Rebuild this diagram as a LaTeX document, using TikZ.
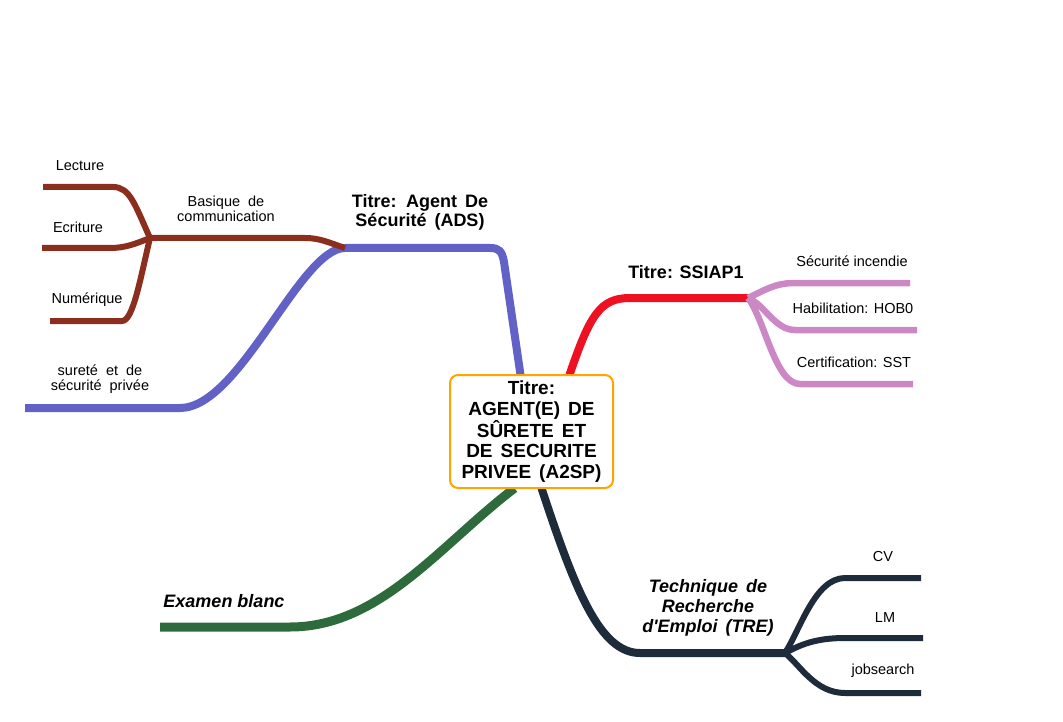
\documentclass[tikz,border=0pt]{standalone}
\usepackage{fontspec}
\setmainfont{Liberation Sans}
\definecolor{cblue}{RGB}{98,98,198}
\definecolor{cbrown}{RGB}{139,46,30}
\definecolor{cred}{RGB}{238,17,34}
\definecolor{cpink}{RGB}{204,136,196}
\definecolor{cgreen}{RGB}{46,107,60}
\definecolor{cnavy}{RGB}{30,43,59}
\definecolor{corange}{RGB}{255,165,0}
\newlength{\wsp}
\setlength{\wsp}{8pt}
\newcommand{\widesp}{\spaceskip=\wsp\relax}
\tikzset{
  bluebr/.style={draw=cblue,line width=8pt},
  brownbr/.style={draw=cbrown,line width=6pt},
  redbr/.style={draw=cred,line width=8pt},
  pinkbr/.style={draw=cpink,line width=6.5pt},
  greenbr/.style={draw=cgreen,line width=9pt},
  navybr/.style={draw=cnavy,line width=8pt},
  navysub/.style={draw=cnavy,line width=6pt},
  wide/.style={execute at begin node=\widesp},
  small/.style={font=\fontsize{14.5}{15}\selectfont, align=center, inner sep=0pt},
  smallw/.style={small, wide},
  title/.style={font=\bfseries\fontsize{18}{19}\selectfont, align=center, inner sep=0pt},
  ititle/.style={font=\bfseries\itshape\fontsize{18}{20}\selectfont, align=center, inner sep=0pt},
}
\begin{document}
\begin{tikzpicture}[x=1pt,y=-1pt]
\useasboundingbox (0,0) rectangle (1063,722);
\path node[minimum width=163pt, minimum height=113pt, inner sep=0pt] (c) at (531.5,431.5) {};
% junction coordinates
\coordinate (ads) at (345,248);
\coordinate (bj) at (150,238);
\coordinate (sj) at (748,298);
\coordinate (tj) at (785,653);
% end coordinates
\coordinate (eSP) at (25,408);
\coordinate (eLec) at (43,187);
\coordinate (eEcr) at (42,248);
\coordinate (eNum) at (50,321);
\coordinate (eInc) at (910,283);
\coordinate (eHob) at (917,330);
\coordinate (eSst) at (913,384);
\coordinate (eEx) at (160,627);
\coordinate (eCV) at (921,578);
\coordinate (eLM) at (923,638);
\coordinate (eJob) at (921,693);

% blue branch (ADS)
\draw[bluebr] ([xshift=-11pt]c.north) -- (504,262) .. controls (502,251) and (499,248) .. (490,248) -- (ads);
\draw[bluebr] (ads) .. controls (300,248) and (240,408) .. (180,408) -- (eSP);
% brown sub-branch
\draw[brownbr] (ads) .. controls (330,243) and (320,238) .. (305,238) -- (bj);
\draw[brownbr] (bj) .. controls (135,205) and (130,187) .. (113,187) -- (eLec);
\draw[brownbr] (bj) .. controls (135,244) and (125,248) .. (110,248) -- (eEcr);
\draw[brownbr] (bj) .. controls (140,280) and (133,321) .. (122,321) -- (eNum);
% red branch (SSIAP1)
\draw[redbr] ([xshift=38pt]c.north) .. controls (590,315) and (600,298) .. (630,298) -- (sj);
\draw[pinkbr] (sj) .. controls (765,290) and (775,283) .. (795,283) -- (eInc);
\draw[pinkbr] (sj) .. controls (765,305) and (775,330) .. (795,330) -- (eHob);
\draw[pinkbr] (sj) .. controls (765,320) and (775,384) .. (800,384) -- (eSst);
% green branch
\draw[greenbr] ([xshift=-17pt]c.south) .. controls (440,545) and (380,627) .. (290,627) -- (eEx);
% navy branch
\draw[navybr] ([xshift=10pt]c.south) .. controls (575,590) and (600,653) .. (640,653) -- (tj);
\draw[navysub] (tj) .. controls (800,630) and (815,578) .. (845,578) -- (eCV);
\draw[navysub] (tj) .. controls (800,645) and (815,638) .. (845,638) -- (eLM);
\draw[navysub] (tj) .. controls (800,665) and (815,693) .. (845,693) -- (eJob);

% central box
\node[draw=corange, line width=2pt, rounded corners=8pt, fill=white,
      minimum width=163pt, minimum height=113pt, inner sep=0pt, align=center, wide,
      font=\bfseries\fontsize{19}{20.7}\selectfont] (center) at (531.5,431.5)
  {Titre:\\AGENT(E) DE\\SÛRETE ET\\DE SECURITE\\PRIVEE (A2SP)};

% labels
\node[title, wide] (tADS) at (420,212) {Titre: Agent De\\Sécurité (ADS)};
\node[smallw] (tBas) at (226,209) {Basique de\\communication};
\node[small] (tLec) at (80,166) {Lecture};
\node[small] (tEcr) at (78,227) {Ecriture};
\node[small] (tNum) at (87,300) {Numérique};
\node[smallw] (tSP) at (100,379) {sureté et de\\sécurité privée};
\node[title] (tSSIAP) at (686,272) {Titre: SSIAP1};
\node[small] (tInc) at (852,261) {Sécurité incendie};
\node[small] (tHob) at (853,308) {Habilitation: HOB0};
\node[small] (tSst) at (854,362) {Certification: SST};
\node[ititle] (tEx) at (224,601) {Examen blanc};
\node[ititle, wide] (tTRE) at (708,608) {Technique de\\Recherche\\d\textquotesingle Emploi (TRE)};
\node[small] (tCV) at (883,557) {CV};
\node[small] (tLM) at (885,618) {LM};
\node[small] (tJob) at (883,671) {jobsearch};
\end{tikzpicture}
\end{document}
